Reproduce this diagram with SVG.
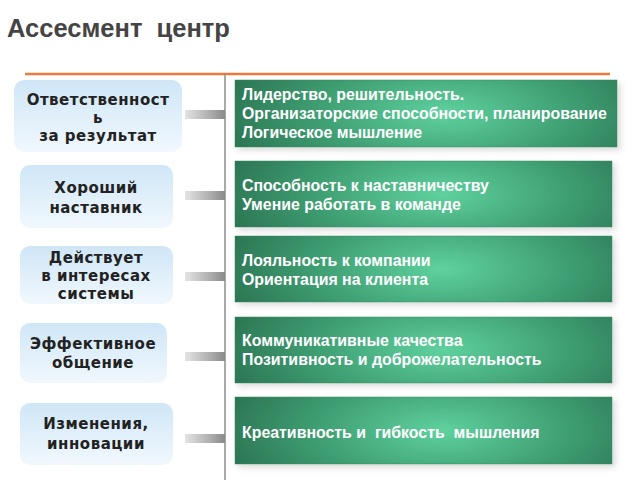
<svg xmlns="http://www.w3.org/2000/svg" width="640" height="480" viewBox="0 0 640 480">
<defs>
<linearGradient id="blue" x1="0" y1="0" x2="0" y2="1">
<stop offset="0" stop-color="#cfe6f7"/>
<stop offset="1" stop-color="#f1f8fd"/>
</linearGradient>
<radialGradient id="green" cx="0.55" cy="0.5" r="0.6" gradientTransform="translate(0.55 0.5) scale(1 2.2) translate(-0.55 -0.5)">
<stop offset="0" stop-color="#5fd19f"/>
<stop offset="0.55" stop-color="#3f9f73"/>
<stop offset="1" stop-color="#2b7452"/>
</radialGradient>
<linearGradient id="bar" x1="0" y1="0" x2="1" y2="0">
<stop offset="0" stop-color="#e4e4e4"/>
<stop offset="0.6" stop-color="#b0b0b0"/>
<stop offset="1" stop-color="#8a8a8a"/>
</linearGradient>
<filter id="sh" x="-5%" y="-20%" width="110%" height="140%">
<feDropShadow dx="3" dy="3" stdDeviation="3" flood-color="#000" flood-opacity="0.15"/>
</filter>
<style>
.lb{fill:url(#blue);}
.gb{fill:url(#green);stroke:#3b8a66;stroke-width:0.5;filter:url(#sh);}
.lt{font-family:"DejaVu Sans",Verdana,sans-serif;font-weight:bold;font-size:15px;fill:#222;text-anchor:middle;letter-spacing:0.5px;}
.gt{font-family:"Liberation Sans",Arial,sans-serif;font-weight:bold;font-size:15.9px;fill:#fff;}
.bar{fill:url(#bar);}
</style>
</defs>
<rect width="640" height="480" fill="#fff"/>
<text x="7" y="37" font-family="Liberation Sans,Arial,sans-serif" font-weight="bold" font-size="25.5" fill="#444" xml:space="preserve">Ассесмент  центр</text>
<line x1="25" y1="74" x2="610" y2="74" stroke="#ec7a3c" stroke-width="2.5"/>
<line x1="225" y1="74" x2="225" y2="480" stroke="#8c8c8c" stroke-width="1.5"/>

<g id="connectors">
<rect class="bar" x="185" y="110" width="40" height="9"/>
<rect class="bar" x="185" y="191" width="40" height="9"/>
<rect class="bar" x="185" y="272" width="40" height="9"/>
<rect class="bar" x="185" y="352" width="40" height="9"/>
<rect class="bar" x="185" y="434" width="40" height="9"/>
</g>

<g id="l1"><rect class="lb" x="14" y="80" width="168" height="72" rx="10"/>
<text class="lt" x="98" y="105">Ответственност</text><text class="lt" x="98" y="123">ь</text><text class="lt" x="98" y="141">за результат</text></g>
<g id="l2"><rect class="lb" x="20" y="165" width="153" height="63" rx="10"/>
<text class="lt" x="96" y="193">Хороший</text><text class="lt" x="96" y="213">наставник</text></g>
<g id="l3"><rect class="lb" x="20" y="246" width="153" height="58" rx="10"/>
<text class="lt" x="96" y="263">Действует</text><text class="lt" x="96" y="281">в интересах</text><text class="lt" x="96" y="299">системы</text></g>
<g id="l4"><rect class="lb" x="20" y="323" width="147" height="60" rx="10"/>
<text class="lt" x="93" y="349">Эффективное</text><text class="lt" x="93" y="368">общение</text></g>
<g id="l5"><rect class="lb" x="20" y="403" width="153" height="62" rx="10"/>
<text class="lt" x="96" y="429">Изменения,</text><text class="lt" x="96" y="449">инновации</text></g>

<g id="g1"><rect class="gb" x="235" y="80" width="382" height="67"/>
<text class="gt" x="242" y="100">Лидерство, решительность.</text><text class="gt" x="242" y="119">Организаторские способности, планирование</text><text class="gt" x="242" y="138">Логическое мышление</text></g>
<g id="g2"><rect class="gb" x="235" y="161" width="377" height="66"/>
<text class="gt" x="242" y="191">Способность к наставничеству</text><text class="gt" x="242" y="210">Умение работать в команде</text></g>
<g id="g3"><rect class="gb" x="235" y="236" width="377" height="66"/>
<text class="gt" x="242" y="266">Лояльность к компании</text><text class="gt" x="242" y="285">Ориентация на клиента</text></g>
<g id="g4"><rect class="gb" x="235" y="317" width="377" height="66"/>
<text class="gt" x="242" y="346">Коммуникативные качества</text><text class="gt" x="242" y="365">Позитивность и доброжелательность</text></g>
<g id="g5"><rect class="gb" x="235" y="397" width="377" height="67"/>
<text class="gt" x="242" y="438" xml:space="preserve">Креативность и  гибкость  мышления</text></g>
</svg>
